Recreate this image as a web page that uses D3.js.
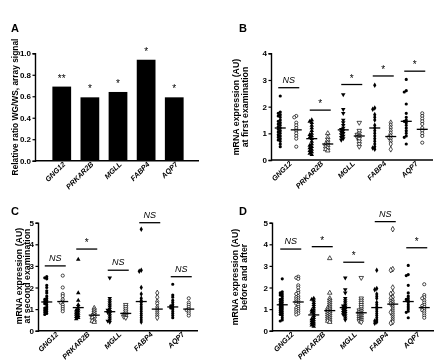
<!DOCTYPE html>
<html><head><meta charset="utf-8">
<script src="https://cdn.jsdelivr.net/npm/d3@7"></script>
<style>
body{margin:0;background:#fff;}
svg{filter:grayscale(100%);}
text{font-family:Arial,"Liberation Sans",sans-serif;}
</style></head>
<body>
<svg id="c" width="434" height="360"></svg>
<script>
const genes = ["GNG12","PRKAR2B","MGLL","FABP4","AQP7"];
// Panel A
const ratioA = [0.69,0.59,0.64,0.94,0.59];
const starsA = ["**","*","*","*","*"];
const ticksA = [0,0.2,0.4,0.6,0.8,1.0];

// Panel B (first examination): filled = WG, open = WS
const bFilled = [
 [2.4,1.8,1.75,1.7,1.65,1.6,1.5,1.45,1.4,1.35,1.3,1.25,1.2,1.15,1.1,1.05,1.0,0.95,0.9,0.85,0.8,0.75,0.7,0.6,0.5],
 [1.5,1.45,1.4,1.3,1.2,1.1,1.0,0.95,0.9,0.85,0.8,0.7,0.6,0.55,0.5,0.45,0.4,0.35,0.3,0.25,0.2],
 [2.45,1.9,1.75,1.5,1.4,1.3,1.2,1.15,1.1,1.05,1.0,0.95,0.9,0.85,0.8,0.75],
 [2.8,1.95,1.9,1.7,1.6,1.5,1.3,1.2,1.1,1.0,0.9,0.8,0.7,0.6,0.5,0.45,0.4],
 [3.02,2.6,2.55,2.1,1.75,1.6,1.5,1.45,1.4,1.3,1.2,1.1,1.0,0.9,0.85,0.6]
];
const bOpen = [
 [1.65,1.6,1.4,1.3,1.2,1.1,1.0,0.9,0.8,0.5],
 [1.0,0.85,0.75,0.65,0.6,0.55,0.5,0.45,0.4,0.35],
 [1.4,1.1,1.0,0.95,0.9,0.85,0.8,0.7,0.6,0.5],
 [1.4,1.3,1.2,1.1,1.0,0.9,0.85,0.8,0.7,0.6,0.4],
 [1.75,1.65,1.55,1.45,1.35,1.2,1.1,1.0,0.9,0.65]
];
const bMeanFilled = [1.2,0.8,1.13,1.2,1.45];
const bMeanOpen = [1.13,0.6,0.9,0.88,1.15];
const bSigY = [2.71,1.87,2.83,3.15,3.33];
const bSig = ["NS","*","*","*","*"];

// Panel C (second examination)
const cFilled = [
 [2.5,2.45,2.4,2.1,2.0,1.85,1.75,1.6,1.5,1.45,1.4,1.35,1.3,1.25,1.2,1.1,1.05,1.0,0.95,0.9,0.85,0.8,0.75],
 [3.3,1.75,1.4,1.2,1.1,1.0,0.95,0.9,0.85,0.8,0.75,0.7,0.65,0.6,0.55],
 [2.45,1.5,1.4,1.3,1.2,1.1,1.0,0.95,0.9,0.85,0.8,0.7,0.6,0.5,0.45,0.4],
 [4.7,2.8,2.75,2.0,1.7,1.5,1.4,1.3,1.2,1.1,1.0,0.9,0.8,0.7,0.6,0.5,0.4],
 [2.15,1.65,1.55,1.4,1.3,1.2,1.15,1.1,1.05,1.0,0.9,0.8,0.7,0.6]
];
const cOpen = [
 [2.55,2.0,1.7,1.6,1.45,1.35,1.3,1.2,1.1,1.0,0.9],
 [1.05,0.95,0.85,0.75,0.7,0.65,0.6,0.5,0.45,0.4],
 [1.2,1.1,1.0,0.9,0.8,0.75,0.7,0.65,0.6],
 [1.75,1.55,1.35,1.25,1.1,1.0,0.9,0.8,0.7,0.6],
 [1.5,1.3,1.2,1.1,1.0,0.95,0.9,0.8,0.7]
];
const cMeanFilled = [1.33,1.07,0.88,1.35,1.1];
const cMeanOpen = [1.35,0.72,0.8,1.0,1.0];
const cSigY = [3.0,3.78,2.8,5.0,2.5];
const cSig = ["NS","*","NS","NS","NS"];

// Panel D (before and after)
const dFilled = [
 [2.4,1.8,1.75,1.7,1.65,1.6,1.5,1.45,1.4,1.35,1.3,1.25,1.2,1.15,1.1,1.05,1.0,0.95,0.9,0.85,0.8,0.75,0.7,0.6,0.5,0.45],
 [1.5,1.45,1.4,1.3,1.2,1.1,1.0,0.95,0.9,0.85,0.8,0.7,0.6,0.55,0.5,0.45,0.4,0.35,0.3,0.25,0.2],
 [2.45,1.9,1.75,1.5,1.4,1.3,1.2,1.15,1.1,1.05,1.0,0.95,0.9,0.85,0.8,0.75,0.7,0.6,0.5],
 [2.8,1.95,1.9,1.7,1.6,1.5,1.3,1.2,1.1,1.0,0.9,0.8,0.7,0.6,0.5,0.45,0.4,0.35],
 [3.02,2.6,2.55,2.1,1.75,1.6,1.5,1.45,1.4,1.3,1.2,1.1,1.0,0.9,0.85,0.6]
];
const dOpen = [
 [2.5,2.45,2.4,2.1,2.0,1.85,1.75,1.7,1.6,1.55,1.5,1.45,1.4,1.35,1.3,1.25,1.2,1.1,1.05,1.0,0.95,0.9,0.85,0.8,0.75],
 [3.35,1.75,1.5,1.4,1.3,1.2,1.1,1.05,1.0,0.95,0.9,0.85,0.8,0.75,0.7,0.65,0.6,0.55,0.5,0.45,0.4],
 [2.45,1.5,1.4,1.3,1.2,1.1,1.0,0.95,0.9,0.85,0.8,0.75,0.7,0.65,0.6,0.55,0.5,0.45,0.4],
 [4.7,2.85,2.8,2.0,1.75,1.7,1.55,1.5,1.4,1.35,1.3,1.25,1.2,1.1,1.0,0.9,0.85,0.8,0.7,0.6,0.5,0.4,0.35],
 [2.15,1.65,1.55,1.5,1.4,1.3,1.2,1.15,1.1,1.05,1.0,0.95,0.9,0.8,0.7,0.6]
];
const dMeanFilled = [1.2,0.73,1.07,1.07,1.35];
const dMeanOpen = [1.33,0.93,0.83,1.23,1.07];
const dSigY = [3.78,3.89,3.17,5.05,3.84];
const dSig = ["NS","*","*","NS","*"];

const ticks4 = [0,1,2,3,4];
const ticks5 = [0,1,2,3,4,5];

const svg = d3.select("#c");
const FONT = 'Arial,"Liberation Sans",sans-serif';

const shapeFor = [d3.symbolCircle, d3.symbolTriangle, "down", d3.symbolDiamond, d3.symbolCircle];
function symPath(i, size){
  if (shapeFor[i] === "down") return d3.symbol(d3.symbolTriangle, size)();
  return d3.symbol(shapeFor[i], size)();
}

function yAxis(g, y, x0, ticks, fmt){
  const ax = d3.axisLeft(y).tickValues(ticks).tickSize(2.5).tickPadding(1.5).tickFormat(fmt);
  const a = g.append("g").attr("transform", `translate(${x0},0)`).call(ax);
  a.select(".domain").attr("stroke","#000").attr("stroke-width",1.4);
  a.selectAll(".tick line").attr("stroke","#000").attr("stroke-width",1.2);
  a.selectAll(".tick text").attr("font-size",8).attr("font-weight","bold").attr("font-family",FONT).attr("fill","#000");
}
function xAxisLine(g, x0, x1, yv){
  g.append("line").attr("x1",x0).attr("x2",x1).attr("y1",yv).attr("y2",yv)
   .attr("stroke","#000").attr("stroke-width",1.4);
}
function xLabels(g, x, yv){
  genes.forEach((gname,i)=>{
    const cx = x(gname) + x.bandwidth()/2 + 2;
    g.append("text").attr("transform",`translate(${cx},${yv+2}) rotate(-45)`)
      .attr("text-anchor","end").attr("dy","0.4em")
      .attr("font-size",7.3).attr("font-weight","bold").attr("font-style","italic")
      .attr("font-family",FONT).attr("fill","#000").text(gname);
  });
}
function yTitle(g, cx, cy, lines, fs){
  lines.forEach((t,k)=>{
    g.append("text").attr("transform",`translate(${cx + k*8.8},${cy}) rotate(-90)`)
     .attr("text-anchor","middle").attr("font-size",fs||8.8).attr("font-weight","bold")
     .attr("font-family",FONT).attr("fill","#000").text(t);
  });
}
function panelLetter(x,y,t){
  svg.append("text").attr("x",x).attr("y",y).attr("font-size",11).attr("font-weight","bold")
    .attr("font-family",FONT).attr("fill","#000").text(t);
}

function swarm(vals, y, cx){
  const placed = [];
  const sorted = vals.slice().sort((a,b)=>b-a);
  const d = 2.0, minD = 2.1;
  sorted.forEach(v=>{
    const py = y(v);
    const cands = [0,-d,d,-2*d,2*d];
    let chosen = 0;
    for (const off of cands){
      const ok = placed.every(p => Math.hypot(p[0]-(cx+off), p[1]-py) >= minD);
      if (ok){ chosen = off; break; }
    }
    placed.push([cx+chosen, py]);
  });
  return placed;
}

function dotPanel(opts){
  const g = svg.append("g");
  const y = d3.scaleLinear().domain([0, opts.ymax]).range([opts.y0, opts.y1]);
  const x = d3.scaleBand().domain(genes).range(opts.xr).padding(0);
  yAxis(g, y, opts.ax, opts.ticks, d3.format("d"));
  xAxisLine(g, opts.ax, opts.axEnd, opts.y0);
  genes.forEach((gname,i)=>{
    const c = x(gname) + x.bandwidth()/2;
    const cf = c - 8, co = c + 8;
    const isDown = shapeFor[i] === "down";
    const sz = (shapeFor[i]===d3.symbolCircle) ? 8 : 9;
    swarm(opts.filled[i], y, cf).forEach(p=>{
      g.append("path").attr("d", symPath(i, sz))
       .attr("transform",`translate(${p[0]},${p[1]})${isDown?" rotate(180)":""}`)
       .attr("fill","#000");
    });
    swarm(opts.open[i], y, co).forEach(p=>{
      g.append("path").attr("d", symPath(i, sz))
       .attr("transform",`translate(${p[0]},${p[1]})${isDown?" rotate(180)":""}`)
       .attr("fill","#fff").attr("stroke","#000").attr("stroke-width",0.7);
    });
    [[cf, opts.meanF[i]],[co, opts.meanO[i]]].forEach(([xx,m])=>{
      g.append("line").attr("x1",xx-5.5).attr("x2",xx+5.5).attr("y1",y(m)).attr("y2",y(m))
       .attr("stroke","#000").attr("stroke-width",1.3);
    });
    const sy = y(opts.sigY[i]);
    g.append("line").attr("x1",cf-2).attr("x2",co+3).attr("y1",sy).attr("y2",sy)
     .attr("stroke","#000").attr("stroke-width",1.3);
    const lab = opts.sig[i];
    g.append("text").attr("x",(cf+co)/2+0.5).attr("y", lab==="NS"? sy-5 : sy-3)
     .attr("text-anchor","middle").attr("font-family",FONT).attr("fill","#000")
     .attr("font-size", lab==="NS"? 9 : 10).attr("font-style", lab==="NS"?"italic":"normal")
     .text(lab);
  });
  xLabels(g, x, opts.y0);
  yTitle(g, opts.titleX, opts.titleY, opts.title);
}

// ---------- Panel A ----------
(function(){
  const g = svg.append("g");
  const y = d3.scaleLinear().domain([0,1]).range([160.7,53.3]);
  const x = d3.scaleBand().domain(genes).range([43,193]).padding(1/3);
  g.selectAll("rect").data(ratioA).enter().append("rect")
    .attr("x",(d,i)=>x(genes[i])).attr("width",x.bandwidth())
    .attr("y",d=>y(d)).attr("height",d=>y(0)-y(d)).attr("fill","#000");
  starsA.forEach((s,i)=>{
    g.append("text").attr("x",x(genes[i])+x.bandwidth()/2).attr("y",y(ratioA[i])-5)
     .attr("text-anchor","middle").attr("font-size",10).attr("font-family",FONT)
     .attr("fill","#000").text(s);
  });
  yAxis(g, y, 35, ticksA, d3.format(".1f"));
  xAxisLine(g, 35, 199, 160.7);
  xLabels(g, x, 160.7);
  yTitle(g, 17.5, 107, ["Relative ratio WG/WS, array signal"], 8.4);
})();

dotPanel({ymax:4, y0:160, y1:53.3, xr:[272.5,430], ax:271, axEnd:433, ticks:ticks4,
  filled:bFilled, open:bOpen, meanF:bMeanFilled, meanO:bMeanOpen, sigY:bSigY, sig:bSig,
  titleX:239, titleY:107, title:["mRNA expression (AU)","at first examination"]});

dotPanel({ymax:5, y0:330.7, y1:222.7, xr:[39,196.5], ax:38, axEnd:198, ticks:ticks5,
  filled:cFilled, open:cOpen, meanF:cMeanFilled, meanO:cMeanOpen, sigY:cSigY, sig:cSig,
  titleX:21.5, titleY:276, title:["mRNA expression (AU)","at second examination"]});

dotPanel({ymax:5, y0:330.7, y1:222.7, xr:[274.5,432], ax:272, axEnd:434, ticks:ticks5,
  filled:dFilled, open:dOpen, meanF:dMeanFilled, meanO:dMeanOpen, sigY:dSigY, sig:dSig,
  titleX:238, titleY:277, title:["mRNA expression (AU)","before and after"]});

panelLetter(11,32,"A");
panelLetter(239,32,"B");
panelLetter(11,215,"C");
panelLetter(239,215,"D");
</script>
</body></html>
